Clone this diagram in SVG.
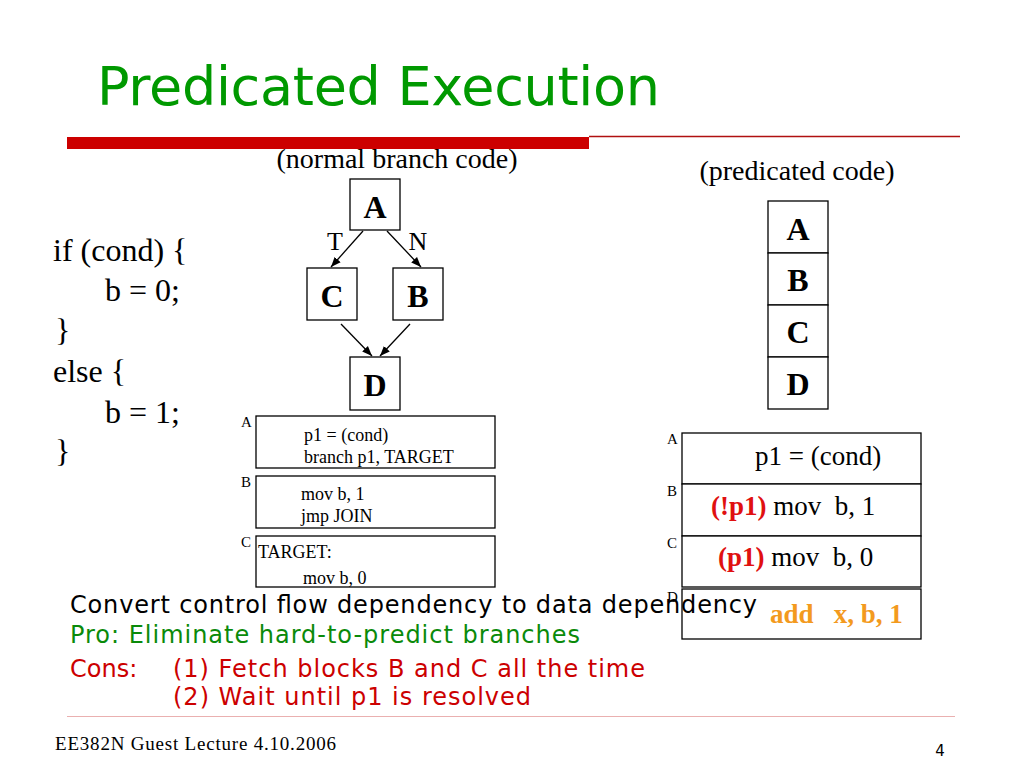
<svg xmlns="http://www.w3.org/2000/svg" width="1024" height="768" viewBox="0 0 1024 768">
<style>
.serif{font-family:"Liberation Serif","Times New Roman",serif;fill:#000}
.sans{font-family:"DejaVu Sans","Liberation Sans",sans-serif}
.node{fill:#fff;stroke:#000;stroke-width:1.3}
.big{font-family:"Liberation Serif",serif;font-weight:bold;font-size:32px;text-anchor:middle}
.code{font-family:"Liberation Serif",serif;font-size:18px}
.lbl{font-family:"Liberation Serif",serif;font-size:15px}
.pc{font-family:"Liberation Serif",serif;font-size:27px}
.edge{stroke:#000;stroke-width:1.3;fill:none;marker-end:url(#arr)}
</style>
<defs>
<marker id="arr" viewBox="0 0 10 10" refX="10" refY="5" markerWidth="10" markerHeight="10" markerUnits="userSpaceOnUse" orient="auto">
<path d="M0,1 L10,5 L0,9 z" fill="#000"/>
</marker>
</defs>
<rect width="1024" height="768" fill="#fff"/>

<!-- title -->
<text x="97" y="105" class="sans" font-size="54" fill="#009900" textLength="563">Predicated Execution</text>
<rect x="67" y="137" width="522" height="12" fill="#cc0000"/>
<line x1="589" y1="136.5" x2="960" y2="136.5" stroke="#b01010" stroke-width="1.3"/>

<!-- source code -->
<g id="source" class="serif" font-size="32">
<text x="53" y="261">if (cond) {</text>
<text x="105" y="301">b = 0;</text>
<text x="55" y="341">}</text>
<text x="53" y="382">else {</text>
<text x="105" y="423">b = 1;</text>
<text x="55" y="462">}</text>
</g>

<text x="397" y="168" class="serif" font-size="28" text-anchor="middle">(normal branch code)</text>
<text x="797" y="180" class="serif" font-size="28" text-anchor="middle">(predicated code)</text>

<!-- CFG -->
<g id="cfgA"><rect class="node" x="350" y="179" width="50" height="51"/><text class="big" x="375" y="218">A</text></g>
<g id="cfgC"><rect class="node" x="307" y="268" width="50" height="52"/><text class="big" x="332" y="307">C</text></g>
<g id="cfgB"><rect class="node" x="393" y="268" width="50" height="52"/><text class="big" x="418" y="307">B</text></g>
<g id="cfgD"><rect class="node" x="350" y="357" width="50" height="53"/><text class="big" x="375" y="396">D</text></g>
<g id="connectors">
<line class="edge" x1="363" y1="231" x2="331" y2="267"/>
<line class="edge" x1="387" y1="231" x2="421" y2="267"/>
<line class="edge" x1="341" y1="324" x2="372" y2="356"/>
<line class="edge" x1="410" y1="324" x2="380" y2="356"/>
</g>
<text x="335" y="250" class="serif" font-size="26" text-anchor="middle">T</text>
<text x="418" y="250" class="serif" font-size="26" text-anchor="middle">N</text>

<!-- branch code blocks -->
<g id="codeA"><rect class="node" x="256" y="416" width="239" height="52"/>
<text class="lbl" x="241" y="427">A</text>
<text class="code" x="304" y="441">p1 = (cond)</text>
<text class="code" x="304" y="463">branch p1, TARGET</text></g>
<g id="codeB"><rect class="node" x="256" y="476" width="239" height="52"/>
<text class="lbl" x="241" y="487">B</text>
<text class="code" x="301" y="500">mov b, 1</text>
<text class="code" x="301" y="522">jmp JOIN</text></g>
<g id="codeC"><rect class="node" x="256" y="536" width="239" height="51"/>
<text class="lbl" x="241" y="547">C</text>
<text class="code" x="258" y="558">TARGET:</text>
<text class="code" x="303" y="584">mov b, 0</text></g>

<!-- predicated stack -->
<g id="pA"><rect class="node" x="768" y="201" width="60" height="52"/><text class="big" x="798" y="240">A</text></g>
<g id="pB"><rect class="node" x="768" y="253" width="60" height="52"/><text class="big" x="798" y="291">B</text></g>
<g id="pC"><rect class="node" x="768" y="305" width="60" height="52"/><text class="big" x="798" y="343">C</text></g>
<g id="pD"><rect class="node" x="768" y="357" width="60" height="52"/><text class="big" x="798" y="395">D</text></g>

<!-- predicated code blocks -->
<g id="predA"><rect class="node" x="682" y="433" width="239" height="51"/>
<text class="lbl" x="667" y="444">A</text>
<text class="pc" x="755" y="465">p1 = (cond)</text></g>
<g id="predB"><rect class="node" x="682" y="484" width="239" height="52"/>
<text class="lbl" x="667" y="496">B</text>
<text class="pc" x="711" y="515" xml:space="preserve"><tspan font-weight="bold" fill="#e01010">(!p1)</tspan> mov  b, 1</text></g>
<g id="predC"><rect class="node" x="682" y="536" width="239" height="51"/>
<text class="lbl" x="667" y="548">C</text>
<text class="pc" x="718" y="566" xml:space="preserve"><tspan font-weight="bold" fill="#e01010">(p1)</tspan> mov  b, 0</text></g>
<g id="predD"><rect class="node" x="682" y="589" width="239" height="50"/>
<text class="lbl" x="667" y="602">D</text>
<text class="pc" x="770" y="623" font-weight="bold" fill="#f39a1e" xml:space="preserve">add   x, b, 1</text></g>

<!-- bullets -->
<text x="70" y="613" class="sans" font-size="24" fill="#000" textLength="687">Convert control flow dependency to data dependency</text>
<text x="70" y="643" class="sans" font-size="24" fill="#0a8a0a" textLength="510">Pro: Eliminate hard-to-predict branches</text>
<text x="70" y="677" class="sans" font-size="24" fill="#cc0000">Cons:</text>
<text x="173" y="677" class="sans" font-size="24" fill="#cc0000" textLength="472">(1) Fetch blocks B and C all the time</text>
<text x="173" y="705" class="sans" font-size="24" fill="#cc0000" textLength="358">(2) Wait until p1 is resolved</text>

<!-- footer -->
<line x1="67" y1="716.5" x2="955" y2="716.5" stroke="#eab0b0" stroke-width="1"/>
<text x="55" y="750" class="serif" font-size="19" textLength="281">EE382N Guest Lecture 4.10.2006</text>
<text x="940" y="756" class="sans" font-size="15" fill="#000" text-anchor="middle">4</text>
</svg>
